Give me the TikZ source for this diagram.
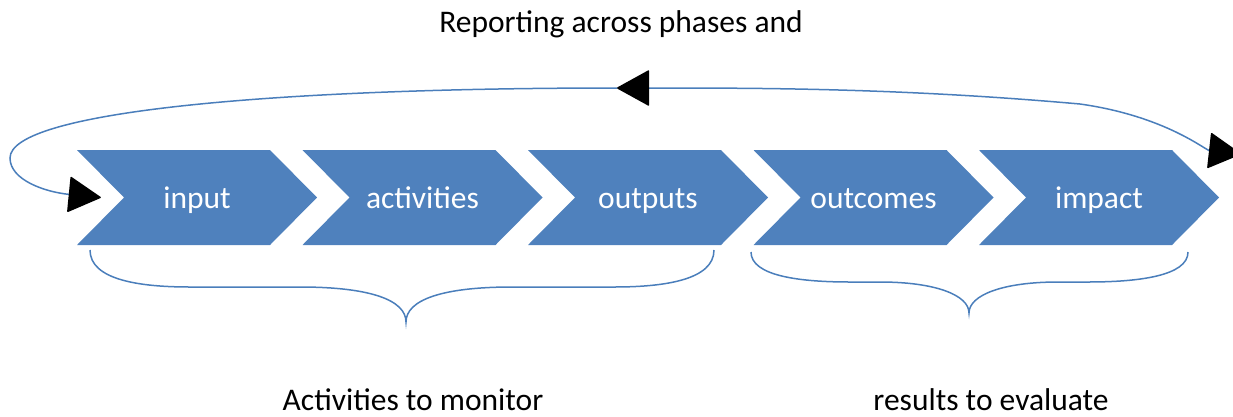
\documentclass[tikz,border=0pt]{standalone}
\usepackage{fontspec}
\setmainfont{Carlito}
\usetikzlibrary{arrows.meta,positioning}

\definecolor{chevblue}{HTML}{4F81BD}
\definecolor{lineblue}{HTML}{4A7EBB}

\tikzset{
  phase/.style={text=white, font=\fontsize{31.5}{37}\selectfont, minimum width=240pt,
    minimum height=95pt, inner sep=0pt, text height=21pt, text depth=0pt},
  caption/.style={font=\fontsize{31.5}{37}\selectfont, inner sep=0pt, text height=21pt, text depth=0pt},
  bluecurve/.style={lineblue, line width=1.5pt},
}

\begin{document}
\begin{tikzpicture}[x=1pt, y=-1pt, >={Triangle[length=33pt,width=36pt,round,color=black]}]
            \useasboundingbox (0,0) rectangle (1233,416);

            \foreach \i in {0,...,4}
                \fill[chevblue] (77+225.5*\i,150) -- ++(193,0) -- ++(47,47.5) -- ++(-47,47.5)
                    -- ++(-193,0) -- ++(47,-47.5) -- cycle;

            \node[phase] (input) at (197,197.5) {input};
            \node[phase] (activities) [node distance=225.5pt, right of=input] {activities};
            \node[phase] (outputs) [node distance=225.5pt, right of=activities] {outputs};
            \node[phase] (outcomes) [node distance=225.5pt, right of=outputs] {outcomes};
            \node[phase] (impact) [node distance=225.5pt, right of=outcomes] {impact};

            \node[caption] (reporting) at (621,22) {Reporting across phases and};
            \node[caption] (monitor) at (413,400) {Activities to monitor};
            \node[caption] (evaluate) at (991,400) {results to evaluate};

            \coordinate (loopR) at (1241,154);
            \coordinate (loopTop) at (617,88);
            \coordinate (loopL) at ([xshift=24pt]input.west);

            % feedback loop
            \draw[bluecurve, <->] (loopR) .. controls (1205,150) and (1165,116) .. (1080,104)
                .. controls (900,88) and (760,88) .. (loopTop);
            \draw[bluecurve, ->] (loopTop) .. controls (270,88) and (10,112) .. (10,158)
                .. controls (10,180) and (45,192) .. (loopL);

            % braces
            \draw[bluecurve] (90,250) .. controls (90,280) and (140,287) .. (190,287) -- (300,287)
                .. controls (370,287) and (406,300) .. (406,322)
                .. controls (406,300) and (442,287) .. (512,287) -- (614,287)
                .. controls (664,287) and (714,280) .. (714,250);
            \draw[bluecurve] (751,252) .. controls (751,276) and (800,282) .. (850,282) -- (880,282)
                .. controls (935,282) and (969,295) .. (969,313)
                .. controls (969,295) and (1003,282) .. (1058,282) -- (1088,282)
                .. controls (1138,282) and (1188,276) .. (1188,252);
\end{tikzpicture}
\end{document}
